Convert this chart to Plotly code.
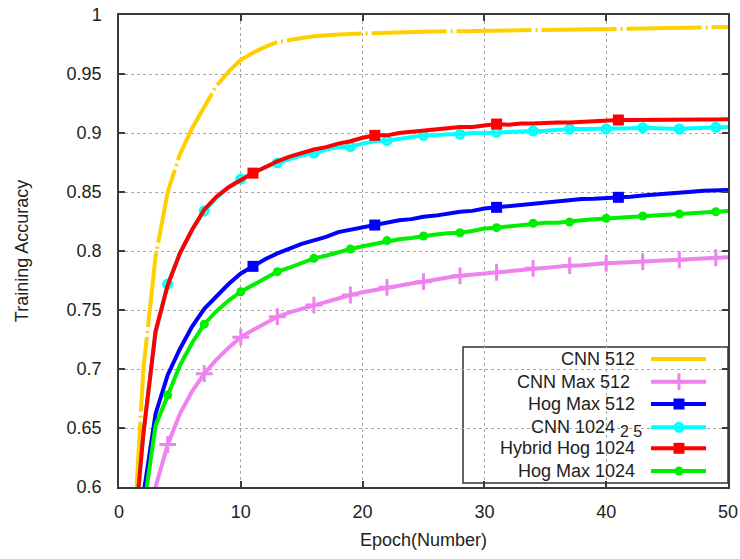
import plotly.graph_objects as go

epochs = list(range(1, 51))

cnn_512 = [0.52, 0.70, 0.795, 0.85, 0.882, 0.904, 0.922, 0.940, 0.952, 0.962,
           0.968, 0.973, 0.977, 0.979, 0.9805, 0.982, 0.983, 0.9835, 0.984, 0.984,
           0.9845, 0.985, 0.985, 0.9855, 0.9857, 0.986, 0.9862, 0.9865, 0.9868, 0.987,
           0.987, 0.9872, 0.9874, 0.9875, 0.9876, 0.9877, 0.9878, 0.9879, 0.988, 0.988,
           0.9882, 0.9884, 0.9886, 0.9888, 0.989, 0.9892, 0.9894, 0.9895, 0.9897, 0.9898]

cnn_max_512 = [0.42, 0.50, 0.60, 0.636, 0.662, 0.681, 0.696, 0.708, 0.718, 0.727,
               0.733, 0.739, 0.7443, 0.748, 0.751, 0.7542, 0.757, 0.760, 0.7627, 0.765,
               0.767, 0.7692, 0.771, 0.7725, 0.774, 0.776, 0.7775, 0.779, 0.780, 0.781,
               0.782, 0.783, 0.784, 0.7853, 0.786, 0.787, 0.7876, 0.788, 0.789, 0.7896,
               0.790, 0.7905, 0.791, 0.7915, 0.792, 0.7924, 0.793, 0.7937, 0.7943, 0.7948]

hog_max_512 = [0.50, 0.593, 0.662, 0.695, 0.717, 0.736, 0.751, 0.762, 0.772, 0.781,
               0.787, 0.793, 0.798, 0.802, 0.806, 0.809, 0.812, 0.816, 0.818, 0.8206,
               0.822, 0.824, 0.826, 0.827, 0.829, 0.830, 0.832, 0.8333, 0.834, 0.836,
               0.837, 0.838, 0.839, 0.8404, 0.841, 0.842, 0.8432, 0.844, 0.8443, 0.8446,
               0.8455, 0.846, 0.847, 0.848, 0.849, 0.8495, 0.8503, 0.851, 0.8513, 0.8517]

cnn_1024 = [0.53, 0.645, 0.73, 0.772, 0.798, 0.818, 0.834, 0.845, 0.854, 0.861,
            0.866, 0.871, 0.8746, 0.878, 0.881, 0.883, 0.886, 0.888, 0.8885, 0.891,
            0.893, 0.8935, 0.895, 0.897, 0.898, 0.898, 0.899, 0.899, 0.900, 0.900,
            0.9006, 0.901, 0.901, 0.9017, 0.902, 0.903, 0.9034, 0.9034, 0.9034, 0.9034,
            0.904, 0.904, 0.9045, 0.904, 0.904, 0.9034, 0.904, 0.9045, 0.9048, 0.905]

hybrid_hog_1024 = [0.53, 0.645, 0.732, 0.771, 0.798, 0.818, 0.835, 0.846, 0.854, 0.860,
                   0.866, 0.871, 0.876, 0.880, 0.883, 0.886, 0.888, 0.891, 0.893, 0.896,
                   0.898, 0.898, 0.900, 0.901, 0.902, 0.903, 0.904, 0.905, 0.905, 0.906,
                   0.9076, 0.907, 0.908, 0.908, 0.9088, 0.909, 0.909, 0.9096, 0.910, 0.910,
                   0.911, 0.911, 0.9112, 0.9115, 0.9115, 0.9115, 0.9115, 0.9115, 0.9115, 0.9116]

hog_max_1024 = [0.48, 0.58, 0.652, 0.678, 0.703, 0.722, 0.738, 0.749, 0.758, 0.7655,
                0.771, 0.777, 0.7825, 0.786, 0.790, 0.7938, 0.796, 0.799, 0.8017, 0.804,
                0.806, 0.8088, 0.810, 0.811, 0.8127, 0.814, 0.815, 0.8155, 0.817, 0.819,
                0.8198, 0.821, 0.822, 0.8235, 0.824, 0.824, 0.8246, 0.826, 0.827, 0.8277,
                0.828, 0.829, 0.8297, 0.830, 0.831, 0.8314, 0.832, 0.833, 0.8333, 0.834]

x_ticks = [0, 10, 20, 30, 40, 50]
y_ticks = [0.6, 0.65, 0.7, 0.75, 0.8, 0.85, 0.9, 0.95, 1.0]
y_tick_labels = ["0.6", "0.65", "0.7", "0.75", "0.8", "0.85", "0.9", "0.95", "1"]

series = [
    dict(name="CNN 512", y=cnn_512, color="#FFD000", dash="75px,4px,2px,4px",
         symbol=None, size=0, step=None),
    dict(name="CNN Max 512\u00a0", y=cnn_max_512, color="#EE82EE", dash="solid",
         symbol="cross-thin-open", size=12, step=3),
    dict(name="Hog Max 512", y=hog_max_512, color="#0000FF", dash="solid",
         symbol="square", size=11, step=10),
    dict(name="CNN 1024", y=cnn_1024, color="#00FFFF", dash="solid",
         symbol="circle-open", size=8, step=3),
    dict(name="Hybrid Hog 1024", y=hybrid_hog_1024, color="#FF0000", dash="solid",
         symbol="square", size=11, step=10),
    dict(name="Hog Max 1024", y=hog_max_1024, color="#00EE00", dash="solid",
         symbol="circle", size=9, step=3),
]

FONT = "Liberation Sans, Arial, sans-serif"
fig = go.Figure()

for s in series:
    fig.add_trace(go.Scatter(x=epochs, y=s["y"], mode="lines", name=s["name"],
                             line=dict(color=s["color"], width=4, dash=s["dash"]),
                             showlegend=False, hoverinfo="skip"))
    if s["symbol"]:
        step = s["step"]
        mline = dict(color=s["color"], width=3 if "open" in s["symbol"] else 0)
        fig.add_trace(go.Scatter(x=epochs[::step], y=s["y"][::step], mode="markers",
                                 marker=dict(symbol=s["symbol"], size=s["size"],
                                             color=s["color"], line=mline),
                                 showlegend=False, hoverinfo="skip", cliponaxis=True))

# custom legend (text right-aligned, sample on the right), on an overlay axis
legend_rows = [0.2712, 0.2231, 0.1758, 0.1265, 0.0820, 0.0339]
sample_x = [0.8736, 0.9639]
sample_mid = 0.9195
text_right = 0.8505

for s, ry in zip(series, legend_rows):
    fig.add_trace(go.Scatter(x=sample_x, y=[ry, ry], mode="lines",
                             line=dict(color=s["color"], width=4, dash=s["dash"]),
                             xaxis="x2", yaxis="y2", showlegend=False, hoverinfo="skip"))
    if s["symbol"]:
        mline = dict(color=s["color"], width=3 if "open" in s["symbol"] else 0)
        fig.add_trace(go.Scatter(x=[sample_mid], y=[ry], mode="markers",
                                 marker=dict(symbol=s["symbol"], size=s["size"],
                                             color=s["color"], line=mline),
                                 xaxis="x2", yaxis="y2", showlegend=False, hoverinfo="skip"))
    label = s["name"]
    fig.add_annotation(x=text_right if label != "CNN 1024" else 0.8177, y=ry,
                       xref="x2", yref="y2", text=label, showarrow=False,
                       xanchor="right", yanchor="middle",
                       font=dict(family=FONT, size=18, color="#222"))

fig.add_annotation(x=0.8193, y=0.1265 - 0.009, xref="x2", yref="y2", text="2 5",
                   showarrow=False, xanchor="left", yanchor="middle",
                   font=dict(family=FONT, size=16, color="#222"))

fig.add_shape(type="rect", xref="paper", yref="paper", x0=0.5649, x1=1.0,
              y0=0.0085, y1=0.2966, line=dict(color="#333", width=1.5),
              fillcolor="white", layer="between")

axis_common = dict(showline=True, linecolor="#3a3a3a", linewidth=1.5, mirror="ticks",
                   ticks="inside", ticklen=6, tickcolor="#3a3a3a", tickwidth=1.5,
                   showgrid=True, gridcolor="#A8A8A8", griddash="dot", gridwidth=1,
                   zeroline=False, automargin=False,
                   tickfont=dict(family=FONT, size=18, color="#222"))

fig.update_layout(
    width=740, height=559,
    margin=dict(l=119, r=12, t=15, b=72, autoexpand=False),
    paper_bgcolor="white", plot_bgcolor="white",
    xaxis=dict(range=[0, 50], tickvals=x_ticks, ticklabelstandoff=8,
               title=dict(text="Epoch(Number)", standoff=12,
                          font=dict(family=FONT, size=18, color="#222")),
               **axis_common),
    yaxis=dict(range=[0.6, 1.0], tickvals=y_ticks, ticktext=y_tick_labels,
               ticklabelstandoff=12,
               title=dict(text="Training Accuracy", standoff=33,
                          font=dict(family=FONT, size=18, color="#222")),
               **axis_common),
    xaxis2=dict(overlaying="x", range=[0, 1], visible=False, fixedrange=True),
    yaxis2=dict(overlaying="y", range=[0, 1], visible=False, fixedrange=True),
    showlegend=False,
)

fig.write_html("out.html", config={"displayModeBar": False},
               post_script="document.body.style.margin='0';document.body.style.overflow='hidden';")
